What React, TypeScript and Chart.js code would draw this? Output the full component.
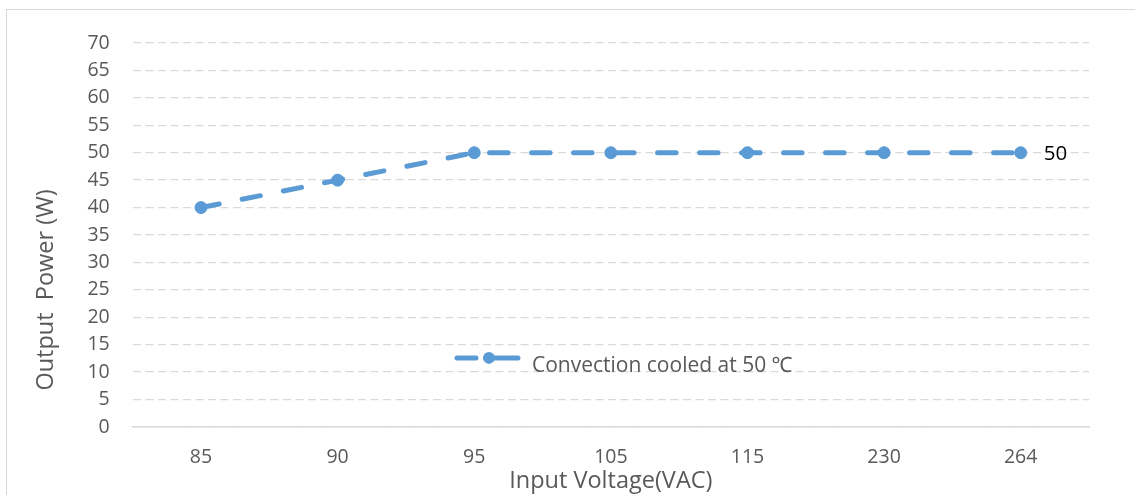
import React, { useEffect, useRef } from "react";
import { Chart, registerables } from "chart.js";

Chart.register(...registerables);

const categories = ["85", "90", "95", "105", "115", "230", "264"];
const outputPower = [40, 45, 50, 50, 50, 50, 50];
const seriesLabel = "Convection cooled at 50 ℃";
const yTitle = "Output  Power (W)";
const xTitle = "Input Voltage(VAC)";
const yMin = 0;
const yMax = 70;
const yStep = 5;

const FONT = "'Open Sans', 'Noto Sans', sans-serif";
const TEXT = "#595959";
const LINE = "#5b9bd5";
const GRID = "#d9d9d9";

const legendInside = {
  id: "legendInside",
  afterDraw(chart: any) {
    const { ctx, chartArea } = chart;
    const ds = chart.data.datasets[0];
    const x0 = chartArea.left + (chartArea.right - chartArea.left) * 0.337;
    const y0 = chartArea.top + (chartArea.bottom - chartArea.top) * 0.820;
    ctx.save();
    ctx.strokeStyle = ds.borderColor;
    ctx.lineWidth = ds.borderWidth;
    ctx.lineCap = "round";
    ctx.beginPath();
    ctx.moveTo(x0 + 2, y0);
    ctx.lineTo(x0 + 21, y0);
    ctx.moveTo(x0 + 31, y0);
    ctx.lineTo(x0 + 63, y0);
    ctx.stroke();
    ctx.fillStyle = ds.borderColor;
    ctx.beginPath();
    ctx.arc(x0 + 34, y0, 6, 0, Math.PI * 2);
    ctx.fill();
    ctx.fillStyle = TEXT;
    ctx.font = `21px ${FONT}`;
    ctx.textBaseline = "middle";
    ctx.textAlign = "left";
    ctx.fillText(ds.label, x0 + 77, y0 + 8);
    ctx.restore();
  },
};

const yAxisTitle = {
  id: "yAxisTitle",
  afterDraw(chart: any) {
    const { ctx, chartArea } = chart;
    const cy = chartArea.top + (chartArea.bottom - chartArea.top) * 0.643;
    ctx.save();
    ctx.translate(46, cy);
    ctx.rotate(-Math.PI / 2);
    ctx.fillStyle = TEXT;
    ctx.font = `23.5px ${FONT}`;
    ctx.textAlign = "center";
    ctx.textBaseline = "middle";
    ctx.fillText(yTitle, 0, 0);
    ctx.restore();
  },
};

const lastLabel = {
  id: "lastLabel",
  afterDatasetsDraw(chart: any) {
    const { ctx } = chart;
    const meta = chart.getDatasetMeta(0);
    const idx = meta.data.length - 1;
    const pt = meta.data[idx];
    const v = chart.data.datasets[0].data[idx];
    ctx.save();
    ctx.fillStyle = "#000000";
    ctx.font = `20.5px ${FONT}`;
    ctx.textBaseline = "middle";
    ctx.textAlign = "left";
    ctx.fillText(String(v), pt.x + 23, pt.y + 1);
    ctx.restore();
  },
};

export default function App() {
  const ref = useRef<HTMLCanvasElement | null>(null);

  useEffect(() => {
    if (!ref.current) return;
    const chart = new Chart(ref.current, {
      type: "line",
      data: {
        labels: categories,
        datasets: [
          {
            label: seriesLabel,
            data: outputPower,
            borderColor: LINE,
            backgroundColor: LINE,
            borderWidth: 5,
            borderDash: [18.5, 23.5],
            borderCapStyle: "round",
            borderJoinStyle: "round",
            pointRadius: 6,
            pointBorderWidth: 1,
            pointBackgroundColor: LINE,
            pointBorderColor: LINE,
            tension: 0,
          },
        ],
      },
      options: {
        responsive: false,
        animation: false,
        layout: { padding: { left: 0, top: 43, right: 46, bottom: 0 } },
        plugins: {
          legend: { display: false },
          tooltip: { enabled: false },
        },
        scales: {
          x: {
            type: "category",
            offset: true,
            grid: { display: false, drawTicks: false },
            border: { display: true, color: GRID, width: 1.5 },
            ticks: {
              color: TEXT,
              font: { family: FONT, size: 19.5 },
              padding: 19,
              maxRotation: 0,
            },
            title: {
              display: true,
              text: xTitle,
              color: TEXT,
              font: { family: FONT, size: 23.5 },
              padding: { top: 0, bottom: 0 },
            },
            afterFit(scale: any) {
              scale.height = 68;
            },
          },
          y: {
            min: yMin,
            max: yMax,
            grid: {
              color: GRID,
              lineWidth: 1.3,
              drawTicks: false,
            },
            border: { display: false, dash: [8, 4.5] },
            ticks: {
              stepSize: yStep,
              color: TEXT,
              font: { family: FONT, size: 19.5 },
              padding: 23,
            },
            title: { display: false, text: yTitle },
            afterFit(scale: any) {
              scale.width = 132.7;
            },
          },
        },
      },
      plugins: [legendInside, lastLabel, yAxisTitle],
    } as any);
    return () => chart.destroy();
  }, []);

  return (
    <div
      style={{
        position: "fixed",
        left: 0,
        top: 0,
        width: 1135,
        height: 495,
        overflow: "hidden",
        background: "#ffffff",
      }}
    >
      <div
        style={{
          position: "absolute",
          left: 6,
          top: 9,
          width: 1140,
          height: 500,
          border: "1.5px solid #d9d9d9",
          boxSizing: "border-box",
        }}
      />
      <canvas
        ref={ref}
        width={1135}
        height={495}
        style={{ position: "absolute", left: 0, top: 0, display: "block" }}
      />
    </div>
  );
}
